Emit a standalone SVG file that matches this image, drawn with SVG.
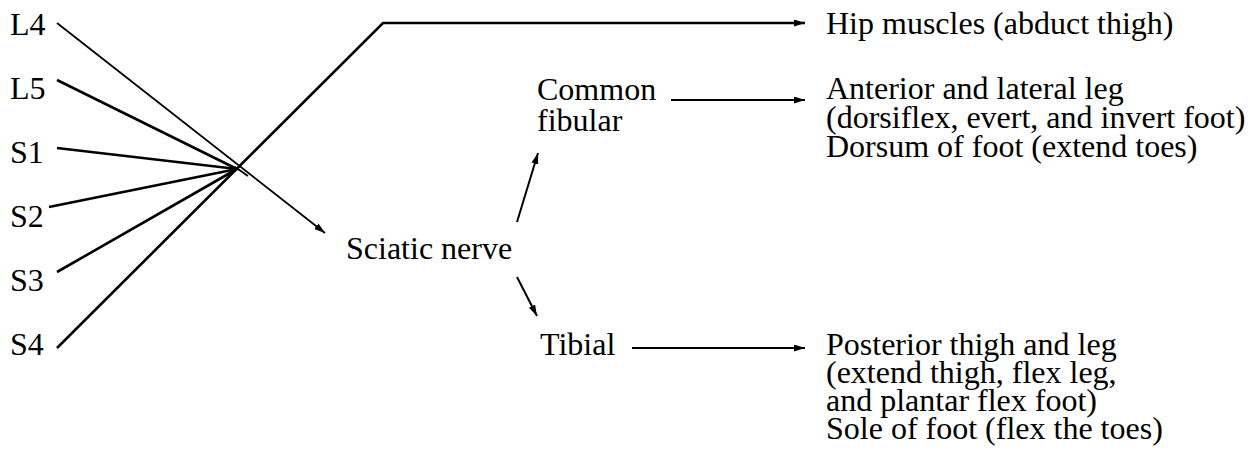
<svg xmlns="http://www.w3.org/2000/svg" width="1258" height="454" viewBox="0 0 1258 454" font-family="'Liberation Serif', Tinos, 'Times New Roman', Times, serif" font-size="32">
<style>
text{fill:#000}
.ln{stroke:#000;fill:none;stroke-linecap:butt}
.thin{stroke-width:1.8}
.thick{stroke-width:2.6}
.arr{stroke-width:2}
</style>
<defs>
<marker id="ah" markerUnits="userSpaceOnUse" markerWidth="12" markerHeight="8" refX="11" refY="3.5" orient="auto">
<path d="M0,0 L11,3.5 L0,7 z" fill="#000"/>
</marker>
</defs>
<rect width="1258" height="454" fill="#fff"/>
<g id="roots">
<g id="L4"><text x="10" y="35">L4</text></g>
<g id="L5"><text x="10" y="99">L5</text></g>
<g id="S1"><text x="10" y="163">S1</text></g>
<g id="S2"><text x="10" y="227">S2</text></g>
<g id="S3"><text x="10" y="291">S3</text></g>
<g id="S4"><text x="10" y="355">S4</text></g>
</g>
<g id="sciatic"><text x="346" y="259">Sciatic nerve</text></g>
<g id="common-fibular"><text x="537" y="100">Common</text><text x="537" y="131">fibular</text></g>
<g id="tibial"><text x="540" y="355">Tibial</text></g>
<g id="hip"><text x="826" y="34">Hip muscles (abduct thigh)</text></g>
<g id="anterior"><text x="826" y="99">Anterior and lateral leg</text><text x="826" y="128">(dorsiflex, evert, and invert foot)</text><text x="826" y="157">Dorsum of foot (extend toes)</text></g>
<g id="posterior"><text x="826" y="355">Posterior thigh and leg</text><text x="826" y="383">(extend thigh, flex leg,</text><text x="826" y="411">and plantar flex foot)</text><text x="826" y="439">Sole of foot (flex the toes)</text></g>
<g id="connectors">
<line class="ln thin" x1="57" y1="23" x2="325" y2="233" marker-end="url(#ah)"/>
<line class="ln thick" x1="57" y1="80" x2="237" y2="169"/>
<line class="ln thick" x1="57" y1="148" x2="237" y2="169"/>
<line class="ln thick" x1="49" y1="207" x2="237" y2="169"/>
<line class="ln thick" x1="57" y1="272" x2="237" y2="169"/>
<line class="ln thin" x1="235" y1="167" x2="248" y2="176"/>
<polyline class="ln thick" points="57,348 383,23 805,23" marker-end="url(#ah)"/>
<line class="ln arr" x1="671" y1="100" x2="805" y2="100" marker-end="url(#ah)"/>
<line class="ln arr" x1="632" y1="348" x2="805" y2="348" marker-end="url(#ah)"/>
<line class="ln arr" x1="517" y1="222" x2="538" y2="153" marker-end="url(#ah)"/>
<line class="ln arr" x1="517" y1="277" x2="537" y2="316" marker-end="url(#ah)"/>
</g>
</svg>
